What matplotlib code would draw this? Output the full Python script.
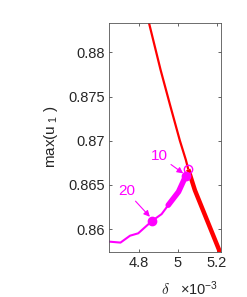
import matplotlib
matplotlib.use("Agg")
import matplotlib.pyplot as plt

plt.rcParams['font.family'] = ['Liberation Sans', 'DejaVu Sans']
plt.rcParams['mathtext.fontset'] = 'custom'
plt.rcParams['mathtext.rm'] = 'Liberation Sans'
plt.rcParams['mathtext.it'] = 'Liberation Sans:italic'

# delta values in units of 1e-3
red_upper_delta = [4.800, 4.851, 4.911, 4.960, 5.010, 5.041, 5.053]
red_upper_u = [0.8868, 0.88335, 0.8780, 0.8740, 0.8700, 0.8678, 0.86676]
red_lower_delta = [5.053, 5.087, 5.260]
red_lower_u = [0.86676, 0.8644, 0.8550]

mag_delta = [4.600, 4.646, 4.705, 4.754, 4.796, 4.868, 4.916, 4.950, 5.003, 5.040]
mag_u = [0.85862, 0.85859, 0.85848, 0.85926, 0.85953, 0.86095, 0.8617, 0.86271, 0.86423, 0.86601]
mag_thick_delta = [4.950, 5.003, 5.040]
mag_thick_u = [0.86271, 0.86423, 0.86601]

bif_delta = [5.053]
bif_u = [0.86676]
dot_labels = ['10', '20']
dot_delta = [5.040, 4.868]
dot_u = [0.86601, 0.86095]

x_ticks = [4.8, 5.0, 5.2]
x_ticklabels = ['4.8', '5', '5.2']
y_ticks = [0.86, 0.865, 0.87, 0.875, 0.88]
y_ticklabels = ['0.86', '0.865', '0.87', '0.875', '0.88']

RED = '#ff0000'
MAG = '#ff00ff'
TXT = '#262626'

fig = plt.figure(figsize=(2.47, 2.97), dpi=100)
ax = fig.add_axes([109/247, 1-251.7/297, 112/247, (251.7-22.7)/297])

ax.plot(red_upper_delta, red_upper_u, color=RED, lw=1.6, solid_capstyle='butt')
ax.plot(red_lower_delta, red_lower_u, color=RED, lw=3.2, solid_capstyle='butt')
ax.plot(mag_delta, mag_u, color=MAG, lw=1.5)
ax.plot(mag_thick_delta, mag_thick_u, color=MAG, lw=4.0, solid_capstyle='round')
ax.plot(bif_delta, bif_u, 'o', ms=6, mfc='none', mec=MAG, mew=1.0)
ax.plot(dot_delta, dot_u, 'o', ms=6, color=MAG)

# annotations (label positions in data coords)
ax.annotate('10', xy=(5.027, 0.86631), xytext=(4.950, 0.86744),
            color=MAG, fontsize=11, ha='right', va='bottom',
            arrowprops=dict(arrowstyle='-|>', color=MAG, lw=0.8, mutation_scale=9,
                            shrinkA=0, shrinkB=0))
ax.annotate('20', xy=(4.856, 0.86140), xytext=(4.7795, 0.86348),
            color=MAG, fontsize=11, ha='right', va='bottom',
            arrowprops=dict(arrowstyle='-|>', color=MAG, lw=0.8, mutation_scale=9,
                            shrinkA=0, shrinkB=0))

ax.set_xlim(4.646, 5.221)
ax.set_ylim(0.85745, 0.88335)
ax.set_xticks(x_ticks)
ax.set_xticklabels(x_ticklabels)
ax.set_yticks(y_ticks)
ax.set_yticklabels(y_ticklabels)
ax.tick_params(direction='in', top=True, right=True, length=2.5, width=0.5,
               colors=TXT, labelsize=10.5, pad=3)
for s in ax.spines.values():
    s.set_linewidth(0.6)
    s.set_color('#555555')

ax.set_ylabel(r'max(u$_{\ 1}$ )', fontsize=11, color=TXT, labelpad=6)
fig.text(165/247, 1-289/297, r'$\delta$', fontsize=11, color=TXT,
         ha='center', va='center', math_fontfamily='cm')
fig.text(180/247, 1-289/297, r'$\times 10^{-3}$', fontsize=10.5, color=TXT,
         ha='left', va='center')

fig.savefig('out.png', dpi=100)
